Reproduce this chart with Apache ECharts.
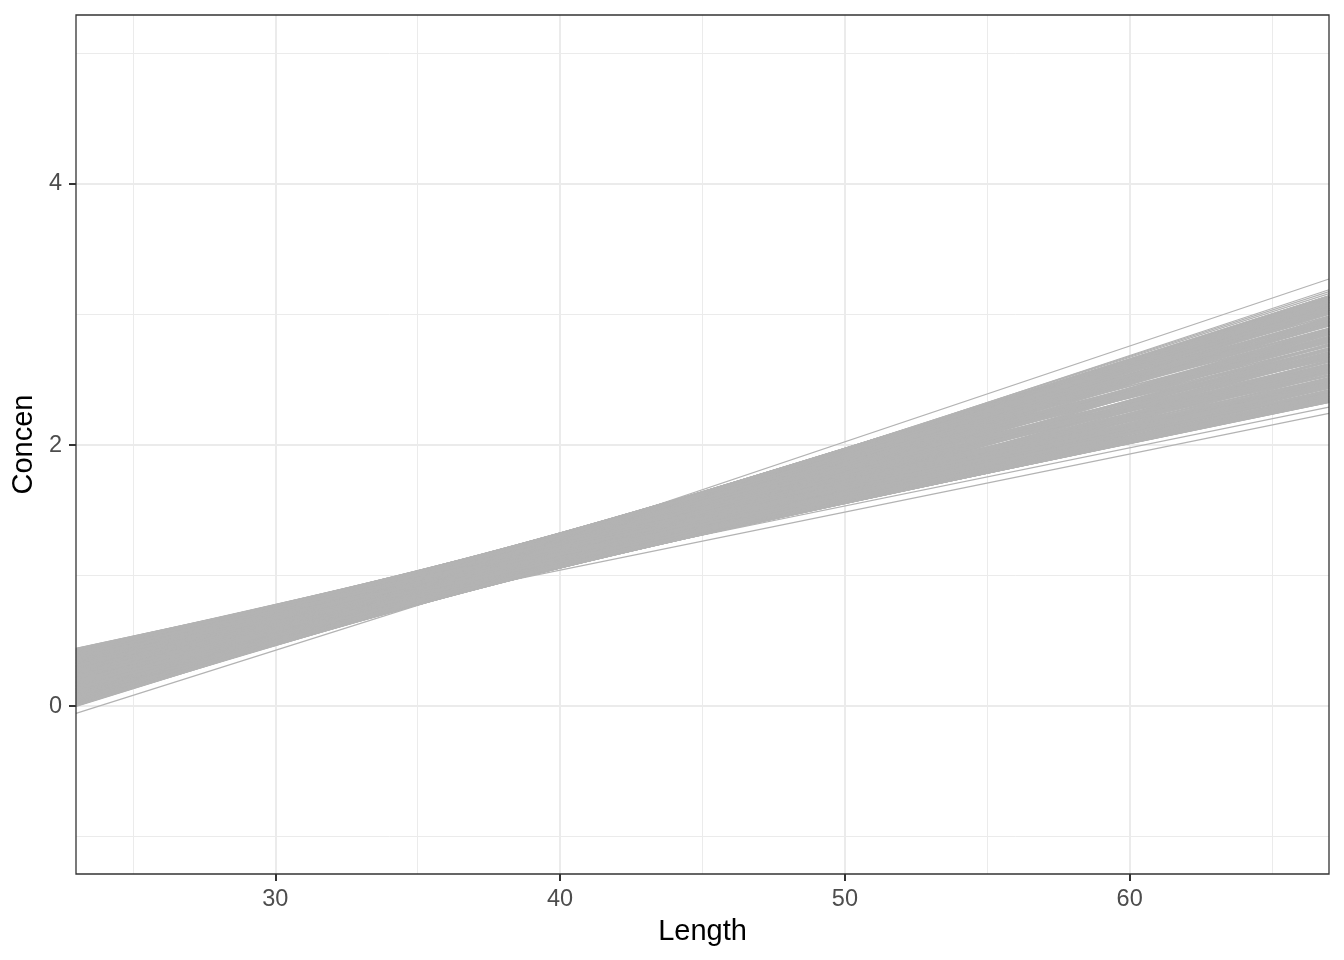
<!DOCTYPE html>
<html>
<head>
<meta charset="utf-8">
<script src="https://cdn.jsdelivr.net/npm/echarts@6/dist/echarts.min.js"></script>
<style>
html,body{margin:0;padding:0;background:#ffffff;}
#chart{width:1344px;height:960px;}
</style>
</head>
<body>
<div id="chart"></div>
<script>
// Axis limits (panel extent), tick labels and grid breaks
const lengthRange = [23, 67];
const concenRange = [-1.287, 5.295];
const xTickLabels = [30, 40, 50, 60];
const yTickLabels = [0, 2, 4];
const xMinorBreaks = [25, 30, 35, 40, 45, 50, 55, 60, 65];
const yMinorBreaks = [-1, 0, 1, 2, 3, 4, 5];

// Each posterior regression line, given by its Concen value at Length = 23 and at Length = 67
const concenAtLength23 = [
  // upper edge of the band
  0.000, 0.011, 0.022, 0.033, 0.044, 0.055, 0.066, 0.077, 0.088, 0.099,
  0.110, 0.121, 0.132, 0.143, 0.154, 0.165, 0.176, 0.187, 0.198, 0.209,
  0.220, 0.231, 0.242, 0.253, 0.264, 0.275, 0.286, 0.297, 0.308, 0.319,
  0.330, 0.341, 0.352, 0.363, 0.374, 0.385, 0.396, 0.407, 0.418, 0.429, 0.440,
  // lower edge of the band
  0.011, 0.022, 0.033, 0.044, 0.055, 0.066, 0.077, 0.088, 0.099, 0.110,
  0.121, 0.132, 0.143, 0.154, 0.165, 0.176, 0.187, 0.198, 0.209, 0.220,
  0.231, 0.242, 0.253, 0.264, 0.275, 0.286, 0.297, 0.308, 0.319, 0.330,
  0.341, 0.352, 0.363, 0.374, 0.385, 0.396, 0.407, 0.418, 0.429,
  // inside the band (A)
  0.006, 0.017, 0.028, 0.039, 0.050, 0.061, 0.072, 0.083, 0.094, 0.105,
  0.116, 0.127, 0.138, 0.149, 0.160, 0.171, 0.182, 0.193, 0.204, 0.215,
  0.226, 0.237, 0.248, 0.259, 0.270, 0.281, 0.292, 0.303, 0.314, 0.325,
  0.336, 0.347, 0.358, 0.369, 0.380, 0.391, 0.402, 0.413, 0.424, 0.435,
  // inside the band (B)
  0.003, 0.014, 0.025, 0.036, 0.047, 0.058, 0.069, 0.080, 0.091, 0.102,
  0.113, 0.124, 0.135, 0.146, 0.157, 0.168, 0.179, 0.190, 0.201, 0.212,
  0.223, 0.234, 0.245, 0.256, 0.267, 0.278, 0.289, 0.300, 0.311, 0.322,
  0.333, 0.344, 0.355, 0.366, 0.377, 0.388, 0.399, 0.410, 0.421, 0.432,
  // inside the band (C)
  0.008, 0.019, 0.030, 0.041, 0.052, 0.063, 0.074, 0.085, 0.096, 0.107,
  0.118, 0.129, 0.140, 0.151, 0.162, 0.173, 0.184, 0.195, 0.206, 0.217,
  0.228, 0.239, 0.250, 0.261, 0.272, 0.283, 0.294, 0.305, 0.316, 0.327,
  0.338, 0.349, 0.360, 0.371, 0.382, 0.393, 0.404, 0.415, 0.426, 0.437
];
const concenAtLength67 = [
  2.978, 3.067, 3.095, 3.113, 3.123, 3.131, 3.136, 3.139, 3.140, 3.140,
  3.138, 3.133, 3.129, 3.124, 3.117, 3.110, 3.102, 3.091, 3.081, 3.071,
  3.059, 3.047, 3.033, 3.019, 3.004, 2.988, 2.971, 2.954, 2.935, 2.915,
  2.894, 2.872, 2.848, 2.823, 2.796, 2.767, 2.735, 2.699, 2.657, 2.605, 2.492,

  2.865, 2.813, 2.771, 2.735, 2.703, 2.674, 2.647, 2.622, 2.598, 2.576,
  2.555, 2.535, 2.516, 2.499, 2.482, 2.466, 2.451, 2.437, 2.423, 2.411,
  2.399, 2.389, 2.379, 2.368, 2.360, 2.353, 2.346, 2.341, 2.337, 2.332,
  2.330, 2.330, 2.331, 2.334, 2.339, 2.347, 2.357, 2.375, 2.403,

  2.972, 2.875, 3.015, 2.887, 3.097, 2.947, 2.773, 3.036, 2.848, 2.646,
  2.942, 2.731, 3.051, 2.833, 2.607, 2.944, 2.714, 2.480, 2.825, 2.591,
  2.939, 2.704, 2.472, 2.815, 2.585, 2.921, 2.693, 2.474, 2.792, 2.580,
  2.378, 2.670, 2.481, 2.740, 2.564, 2.410, 2.617, 2.484, 2.617, 2.511,

  2.952, 3.040, 2.947, 2.810, 3.008, 2.850, 3.100, 2.925, 2.730, 3.023,
  2.817, 2.599, 2.920, 2.696, 3.034, 2.805, 2.569, 2.920, 2.681, 3.037,
  2.797, 2.558, 2.913, 2.675, 2.439, 2.786, 2.556, 2.889, 2.664, 2.450,
  2.758, 2.553, 2.363, 2.638, 2.463, 2.697, 2.537, 2.410, 2.570, 2.477,

  3.009, 2.925, 3.092, 2.968, 2.812, 3.050, 2.877, 2.684, 2.968, 2.764,
  3.074, 2.861, 2.637, 2.972, 2.743, 2.507, 2.856, 2.617, 2.972, 2.733,
  2.493, 2.850, 2.611, 2.962, 2.725, 2.494, 2.831, 2.606, 2.390, 2.706,
  2.499, 2.789, 2.592, 2.414, 2.662, 2.500, 2.694, 2.552, 2.452, 2.528
];

// A few stray draws lying outside the main band
const strayAtLength23 = [0.043, 0.020, 0.060, 0.090, -0.056, 0.285, 0.330];
const strayAtLength67 = [3.272, 3.190, 3.175, 3.160, 2.980, 2.243, 2.290];

const FONT = '"Liberation Sans", Arial, Helvetica, sans-serif';
const chart = echarts.init(document.getElementById('chart'), null, {renderer: 'canvas'});

const toSegments = (starts, ends) => starts.map((v, i) => ({
  coords: [[lengthRange[0], v], [lengthRange[1], ends[i]]]
}));

const majorGrid = {show: true, lineStyle: {color: '#EBEBEB', width: 2, type: 'solid'}};
const minorGrid = {show: true, lineStyle: {color: '#EBEBEB', width: 1, type: 'solid'}};

chart.setOption({
  backgroundColor: '#ffffff',
  animation: false,
  grid: {
    left: 76, right: 15, top: 15, bottom: 86,
    containLabel: false,
    outerBoundsMode: 'none',
    show: true,
    borderColor: '#333333',
    borderWidth: 1.3,
    backgroundColor: 'transparent',
    z: 10
  },
  xAxis: [
    {
      type: 'value', position: 'bottom',
      min: lengthRange[0], max: lengthRange[1], interval: 10,
      name: 'Length', nameLocation: 'middle', nameGap: 43,
      nameTextStyle: {fontFamily: FONT, fontSize: 29, color: '#000000'},
      axisLine: {show: false, onZero: false},
      axisTick: {show: true, customValues: xTickLabels, length: 7, lineStyle: {color: '#333333', width: 2}},
      axisLabel: {show: true, customValues: xTickLabels, margin: 14, fontFamily: FONT, fontSize: 23.5, color: '#4D4D4D'},
      splitLine: majorGrid
    },
    {
      type: 'value', position: 'bottom',
      min: lengthRange[0], max: lengthRange[1], interval: 5,
      axisLine: {show: false, onZero: false},
      axisTick: {show: false, customValues: xMinorBreaks},
      axisLabel: {show: false, customValues: xMinorBreaks},
      splitLine: minorGrid
    }
  ],
  yAxis: [
    {
      type: 'value', position: 'left',
      min: concenRange[0], max: concenRange[1], interval: 2,
      name: 'Concen', nameLocation: 'middle', nameGap: 33,
      nameTextStyle: {fontFamily: FONT, fontSize: 29, color: '#000000'},
      axisLine: {show: false, onZero: false},
      axisTick: {show: true, customValues: yTickLabels, length: 7, lineStyle: {color: '#333333', width: 2}},
      axisLabel: {show: true, customValues: yTickLabels, margin: 14, fontFamily: FONT, fontSize: 23.5, color: '#4D4D4D'},
      splitLine: majorGrid
    },
    {
      type: 'value', position: 'left',
      min: concenRange[0], max: concenRange[1], interval: 1,
      axisLine: {show: false, onZero: false},
      axisTick: {show: false, customValues: yMinorBreaks},
      axisLabel: {show: false, customValues: yMinorBreaks},
      splitLine: minorGrid
    }
  ],
  series: [
    {
      type: 'lines',
      coordinateSystem: 'cartesian2d',
      xAxisIndex: 0, yAxisIndex: 0,
      polyline: false,
      silent: true,
      z: 2,
      lineStyle: {color: '#B3B3B3', width: 1.9, opacity: 1, curveness: 0},
      data: toSegments(concenAtLength23, concenAtLength67)
    },
    {
      type: 'lines',
      coordinateSystem: 'cartesian2d',
      xAxisIndex: 0, yAxisIndex: 0,
      polyline: false,
      silent: true,
      z: 2,
      lineStyle: {color: '#B3B3B3', width: 1.2, opacity: 1, curveness: 0},
      data: toSegments(strayAtLength23, strayAtLength67)
    }
  ]
});
</script>
</body>
</html>
